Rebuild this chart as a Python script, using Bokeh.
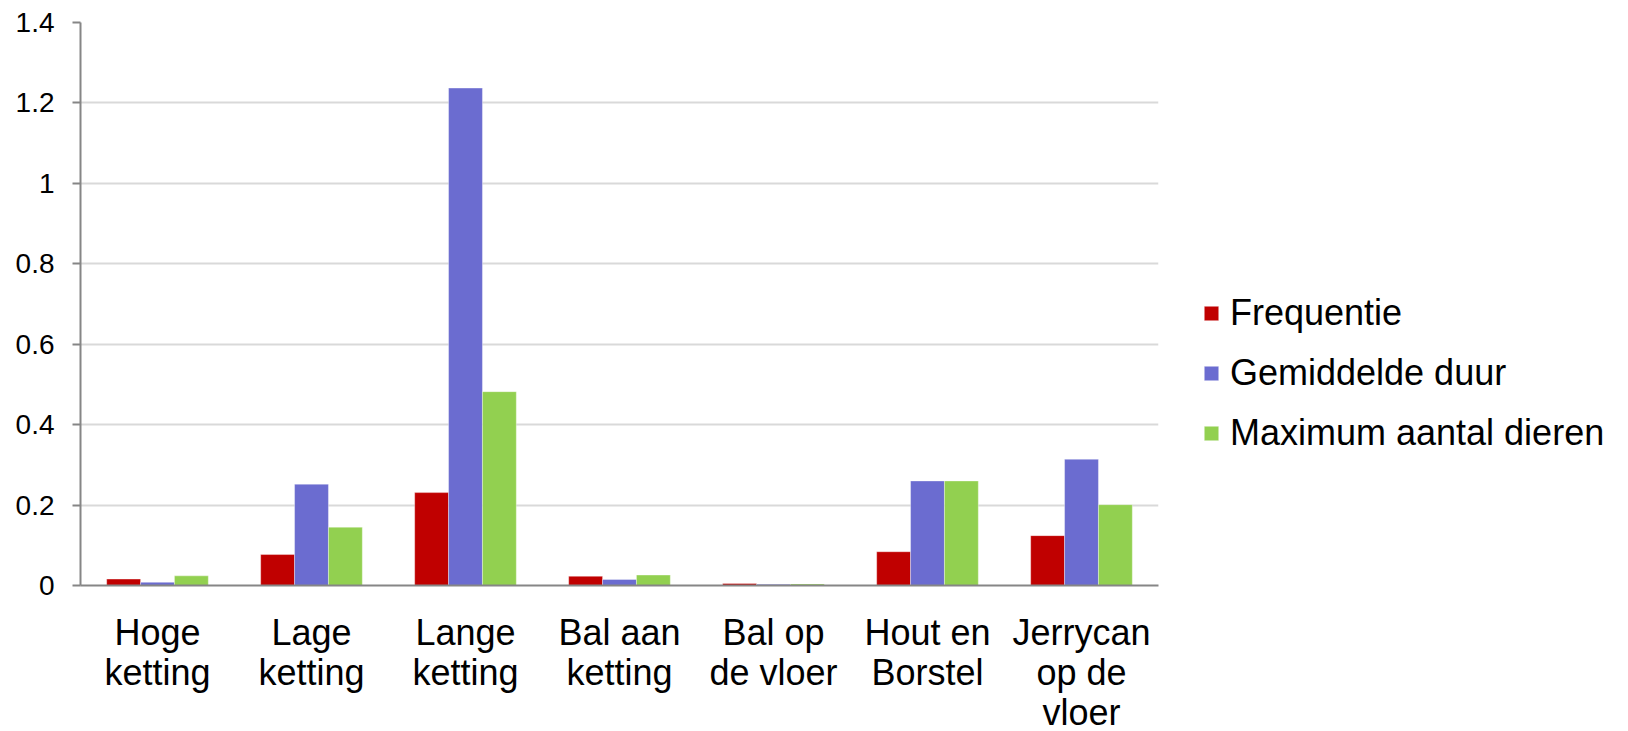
from bokeh.plotting import figure
from bokeh.models import ColumnDataSource, FactorRange, Range1d, FixedTicker, Legend, LegendItem
from bokeh.transform import dodge
from bokeh.embed import file_html
from bokeh.resources import INLINE

categories = ["Hoge\nketting", "Lage\nketting", "Lange\nketting", "Bal aan\nketting",
              "Bal op\nde vloer", "Hout en\nBorstel", "Jerrycan\nop de\nvloer"]
series_names = ["Frequentie", "Gemiddelde duur", "Maximum aantal dieren"]
frequentie = [0.016, 0.077, 0.231, 0.023, 0.005, 0.084, 0.124]
gemiddelde_duur = [0.008, 0.252, 1.237, 0.015, 0.003, 0.260, 0.314]
maximum_aantal = [0.024, 0.145, 0.482, 0.026, 0.004, 0.260, 0.201]
y_ticks = [0, 0.2, 0.4, 0.6, 0.8, 1.0, 1.2, 1.4]
y_tick_labels = ["0", "0.2", "0.4", "0.6", "0.8", "1", "1.2", "1.4"]
colors = ["#C00000", "#6B6CD0", "#92D050"]

FONT = "Liberation Sans"

src = ColumnDataSource(dict(cat=categories, f=frequentie, g=gemiddelde_duur, m=maximum_aantal))

p = figure(frame_width=1078, frame_height=563, x_range=FactorRange(*categories, range_padding=0),
           y_range=Range1d(0, 1.4), output_backend="svg", toolbar_location=None,
           min_border_left=80, min_border_right=450, min_border_top=22, min_border_bottom=144)
p.outline_line_color = None
p.background_fill_color = "white"
p.border_fill_color = "white"

bw = 0.22
renderers = []
for col, off, c in zip(["f", "g", "m"], [-bw, 0, bw], colors):
    r = p.vbar(x=dodge("cat", off, range=p.x_range), top=col, width=bw, source=src,
               fill_color=c, line_color="white", line_width=0.6, line_alpha=0.6)
    renderers.append(r)

# y axis
p.yaxis.ticker = FixedTicker(ticks=y_ticks)
p.yaxis.major_label_overrides = {t: l for t, l in zip(y_ticks, y_tick_labels)}
p.yaxis.axis_line_color = "#868686"
p.yaxis.axis_line_width = 2
p.yaxis.major_tick_line_color = "#868686"
p.yaxis.major_tick_line_width = 2
p.yaxis.major_tick_out = 8
p.yaxis.major_tick_in = 0
p.yaxis.minor_tick_line_color = None
p.yaxis.major_label_text_font = FONT
p.yaxis.major_label_text_font_size = "28px"
p.yaxis.major_label_text_color = "black"
p.yaxis.major_label_standoff = 18

# x axis
p.xaxis.axis_line_color = "#868686"
p.xaxis.axis_line_width = 2
p.xaxis.major_tick_line_color = None
p.xaxis.minor_tick_line_color = None
p.xaxis.major_label_text_font = FONT
p.xaxis.major_label_text_font_size = "36px"
p.xaxis.major_label_text_color = "black"
p.xaxis.major_label_standoff = 20
p.xaxis.major_label_text_line_height = 0.98

p.xgrid.grid_line_color = None
p.ygrid.grid_line_color = "#D9D9D9"
p.ygrid.grid_line_width = 2

legend = Legend(items=[LegendItem(label=n, renderers=[r]) for n, r in zip(series_names, renderers)],
                location=(44, 131), orientation="vertical")
legend.label_text_font = FONT
legend.label_text_font_size = "36px"
legend.label_text_color = "black"
legend.glyph_width = 18
legend.glyph_height = 18
legend.label_standoff = 10
legend.label_height = 40
legend.spacing = 18
legend.padding = 0
legend.margin = 0
legend.border_line_color = None
legend.background_fill_alpha = 0
p.add_layout(legend, "right")

open("out.html", "w").write(file_html(p, INLINE))
